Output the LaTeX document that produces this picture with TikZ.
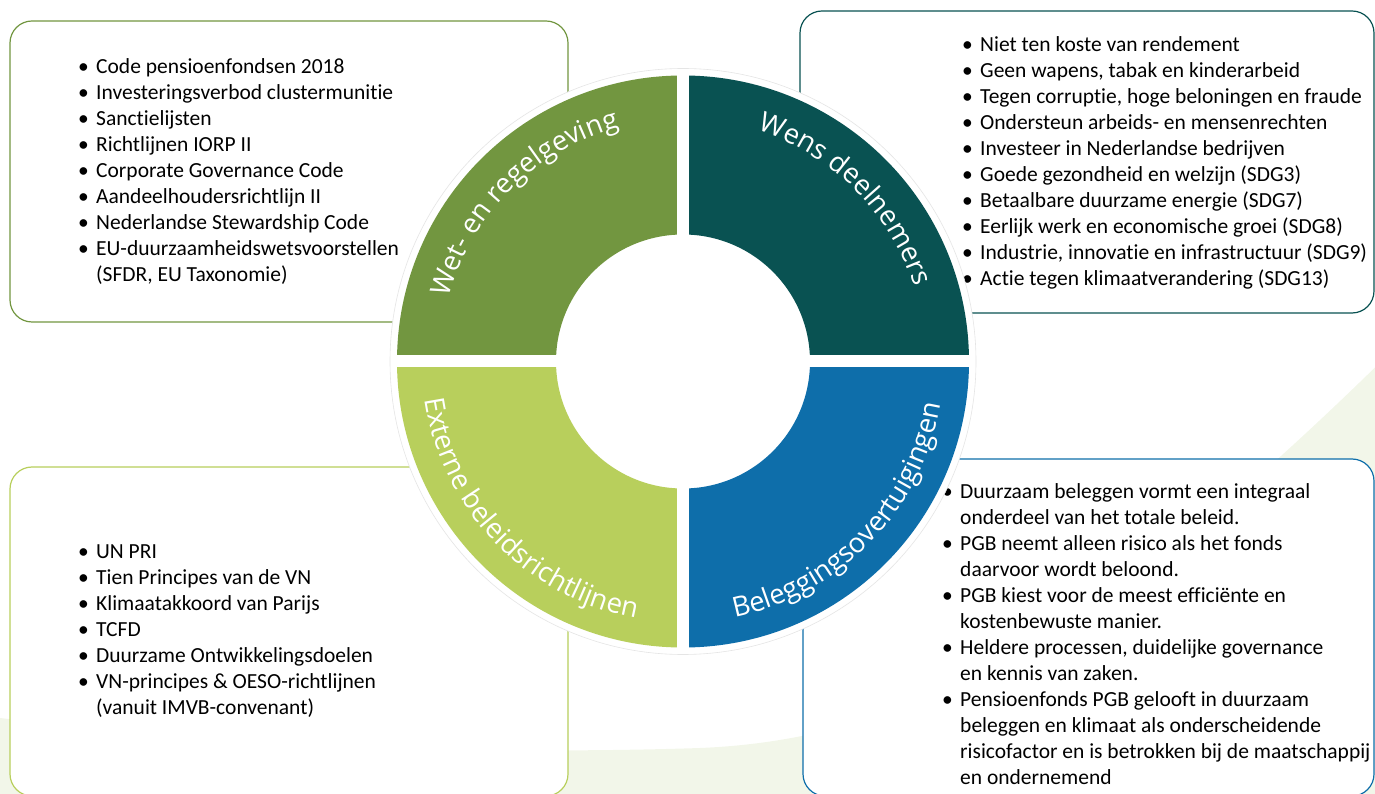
\documentclass[tikz,border=0pt]{standalone}
\usepackage{fontspec}
\setmainfont{Carlito}[Ligatures=NoCommon]
\newfontfamily\ringfont{Open Sans}
\usetikzlibrary{decorations.text}

\definecolor{wetgroen}{RGB}{114,150,64}
\definecolor{wensteal}{RGB}{9,82,82}
\definecolor{extlime}{RGB}{184,207,92}
\definecolor{belblauw}{RGB}{14,110,170}
\definecolor{waas}{RGB}{242,246,233}

\newcommand\bul{\makebox[18pt][l]{\textbullet}}
\newcommand\ind{\hspace*{18pt}}

\tikzset{
  kader/.style={draw=#1, rounded corners=22pt, line width=1.2pt, fill=white},
  lijst/.style={anchor=base west, align=left, inner sep=0pt, font=\fontsize{21.5}{26}\selectfont},
  ringtekst/.style={decorate, decoration={text along path, text align=center, text color=white,
      text={|\ringfont\fontsize{27.5}{30}\selectfont|#1}}}
}

\begin{document}
\begin{tikzpicture}[x=1pt,y=1pt]
\useasboundingbox (0,0) rectangle (1375,793);
\fill[waas] (0,75) .. controls (300,40) and (550,40) .. (700,45) .. controls (950,55) and (1150,200) .. (1420,470)
  -- (1420,-10) -- (0,-10) -- cycle;

\draw[kader=wetgroen] (10,471) rectangle (568,772);
\draw[kader=wensteal] (800,480) rectangle (1374,782);
\draw[kader=extlime] (10,-3) rectangle (568,326);
\draw[kader=belblauw] (803,-3) rectangle (1374,334);

\node[lijst] (lst_wet) at (78,511) {\bul Code pensioenfondsen 2018\\
  \bul Investeringsverbod clustermunitie\\
  \bul Sanctielijsten\\
  \bul Richtlijnen IORP II\\
  \bul Corporate Governance Code\\
  \bul Aandeelhoudersrichtlijn II\\
  \bul Nederlandse Stewardship Code\\
  \bul EU-duurzaamheidswetsvoorstellen\\
  \ind (SFDR, EU Taxonomie)};
\node[lijst] (lst_wens) at (962,507) {\bul Niet ten koste van rendement\\
  \bul Geen wapens, tabak en kinderarbeid\\
  \bul Tegen corruptie, hoge beloningen en fraude\\
  \bul Ondersteun arbeids- en mensenrechten\\
  \bul Investeer in Nederlandse bedrijven\\
  \bul Goede gezondheid en welzijn (SDG3)\\
  \bul Betaalbare duurzame energie (SDG7)\\
  \bul Eerlijk werk en economische groei (SDG8)\\
  \bul Industrie, innovatie en infrastructuur (SDG9)\\
  \bul Actie tegen klimaatverandering (SDG13)};
\node[lijst] (lst_ext) at (78,79) {\bul UN PRI\\
  \bul Tien Principes van de VN\\
  \bul Klimaatakkoord van Parijs\\
  \bul TCFD\\
  \bul Duurzame Ontwikkelingsdoelen\\
  \bul VN-principes \& OESO-richtlijnen\\
  \ind (vanuit IMVB-convenant)};
\node[lijst] (lst_bel) at (942,9) {\bul Duurzaam beleggen vormt een integraal\\
  \ind onderdeel van het totale beleid.\\
  \bul PGB neemt alleen risico als het fonds\\
  \ind daarvoor wordt beloond.\\
  \bul PGB kiest voor de meest efficiënte en\\
  \ind kostenbewuste manier.\\
  \bul Heldere processen, duidelijke governance\\
  \ind en kennis van zaken.\\
  \bul Pensioenfonds PGB gelooft in duurzaam\\
  \ind beleggen en klimaat als onderscheidende\\
  \ind risicofactor en is betrokken bij de maatschappij\\
  \ind en ondernemend};

\coordinate (c) at (683,431.5);
\fill[white] (c) circle (293);
\draw[black!10, line width=0.6pt] (c) circle (293);
\foreach \a/\kl in {90/wetgroen, 0/wensteal, 180/extlime, 270/belblauw}
  \fill[\kl] ([shift={(\a:286)}]c) arc[start angle=\a, end angle=\a+90, radius=286]
    -- ([shift={(\a+90:127)}]c) arc[start angle=\a+90, end angle=\a, radius=127] -- cycle;
\draw[white, line width=12pt] ([shift={(90:290)}]c) -- ([shift={(270:290)}]c)
  ([shift={(0:290)}]c) -- ([shift={(180:290)}]c);

\path[ringtekst={Wet- en regelgeving}] ([shift={(185:243)}]c) arc[start angle=185, end angle=85, radius=243];
\path[ringtekst={Wens deelnemers}] ([shift={(95:243)}]c) arc[start angle=95, end angle=-5, radius=243];
\path[ringtekst={Externe beleidsrichtlijnen}] ([shift={(173:261)}]c) arc[start angle=173, end angle=275, radius=261];
\path[ringtekst={Beleggingsovertuigingen}] ([shift={(-94:261)}]c) arc[start angle=-94, end angle=6, radius=261];
\end{tikzpicture}
\end{document}
